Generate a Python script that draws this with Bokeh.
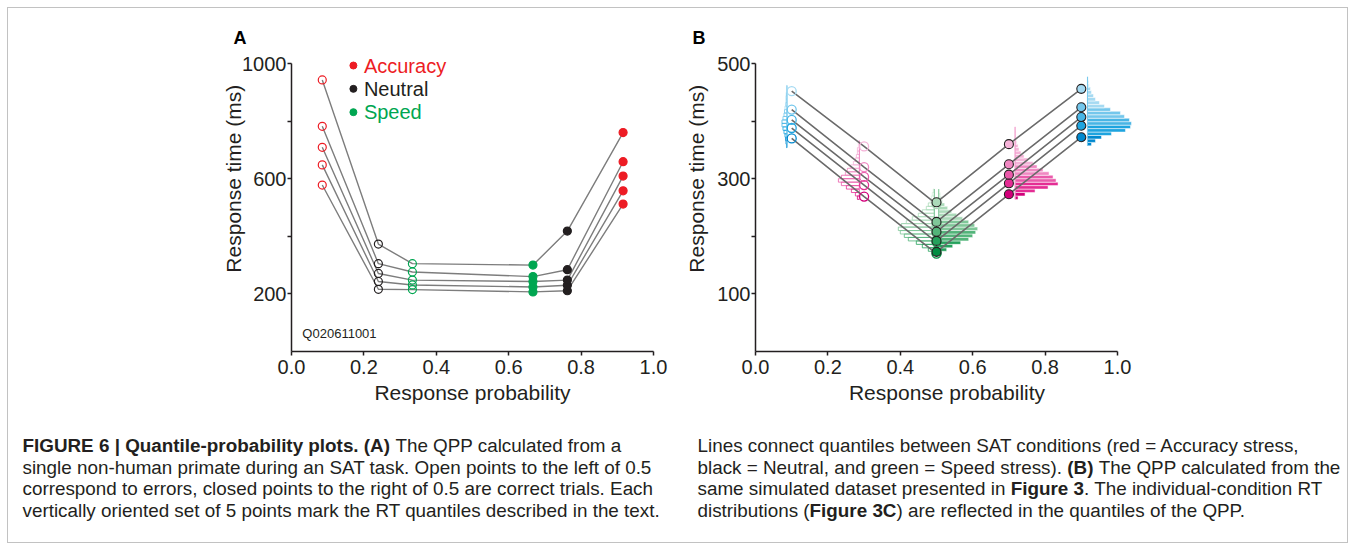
import math
from bokeh.plotting import figure
from bokeh.models import Range1d, FixedTicker, Title, ColumnDataSource
from bokeh.layouts import row, column
from bokeh.embed import file_html
from bokeh.resources import INLINE
from bokeh.core.properties import value

FONT = "Liberation Sans"
INK = "#231f20"

# ---------------- shared axis ticks ----------------
X_TICKS = [0.0, 0.2, 0.4, 0.6, 0.8, 1.0]
X_TICK_LABELS = ["0.0", "0.2", "0.4", "0.6", "0.8", "1.0"]

# ---------------- Panel A data (monkey QPP) ----------------
A_PROB = [0.085, 0.24, 0.334, 0.667, 0.762, 0.916]
A_COND = ["Accuracy", "Neutral", "Speed", "Speed", "Neutral", "Accuracy"]
A_CORRECT = [False, False, False, True, True, True]
A_ACC_ERR = [578, 648, 709, 782, 943]
A_NEU_ERR = [216, 243, 271, 305, 373]
A_SPD_ERR = [215, 231, 248, 276, 305]
A_SPD_COR = [207, 224, 243, 260, 300]
A_NEU_COR = [211, 230, 248, 284, 418]
A_ACC_COR = [512, 558, 609, 659, 760]
A_Y_TICKS = [200, 400, 600, 800, 1000]
A_Y_TICK_LABELS = ["200", "", "600", "", "1000"]
A_LEGEND = ["Accuracy", "Neutral", "Speed"]
A_LEGEND_COLORS = ["#ed1c24", INK, "#00a651"]
A_SESSION = "Q020611001"

# ---------------- Panel B data (simulated QPP) ----------------
B_PROB = [0.1, 0.3, 0.5, 0.5, 0.7, 0.9]
B_COND = ["Accuracy", "Neutral", "Speed", "Speed", "Neutral", "Accuracy"]
B_CORRECT = [False, False, False, True, True, True]
B_ACC_ERR = [370, 388, 402, 420, 452]
B_NEU_ERR = [269, 289, 303, 320, 356]
B_SPD_ERR = [170, 190, 206, 222, 256]
B_SPD_COR = [173, 192, 208, 225, 259]
B_NEU_COR = [273, 292, 307, 325, 360]
B_ACC_COR = [372, 392, 407, 424, 456]
B_Y_TICKS = [100, 200, 300, 400, 500]
B_Y_TICK_LABELS = ["100", "", "300", "", "500"]

# RT histograms (bin width in ms, first bin start, relative counts)
HIST_BIN_MS = 6
B_HIST_START = [354, 264, 168, 168, 264, 357]
B_HIST_ACC_ERR = [0.5, 1, 1.5, 2, 3, 4, 5, 5, 4, 3, 2.5, 2, 1.5, 1, 1, 0.7, 0.5, 0.5]
B_HIST_NEU_ERR = [2, 4, 8, 13, 18, 21, 18, 14, 12, 9, 6, 4, 3, 2, 2, 1, 1]
B_HIST_SPD_ERR = [2, 6, 12, 18, 26, 30, 34, 36, 33, 28, 22, 16, 12, 8, 6, 4, 3, 2, 1]
B_HIST_SPD_COR = [3, 8, 14, 22, 30, 34, 37, 39, 36, 30, 24, 18, 13, 9, 6, 4, 3, 2, 1]
B_HIST_NEU_COR = [3, 10, 20, 33, 43, 41, 38, 34, 28, 22, 18, 13, 9, 6, 4, 3, 2, 1.5, 1, 1, 0.5]
B_HIST_ACC_COR = [4, 8, 14, 24, 38, 43, 44, 42, 37, 33, 23, 17, 12, 8, 6, 4, 3, 2, 1.5, 1]
HIST_SCALE = 1 / 362.0          # probability-axis units per count
B_HIST_OFFSET = [-0.013, -0.013, -0.006, 0.006, 0.017, 0.017]

B_SHADES = {
    "Accuracy": ["#0089cf", "#1ea4df", "#48b5e5", "#74c7ec", "#a5daf2", "#d2edf9"],
    "Neutral": ["#d1007a", "#e42d94", "#ea5aaa", "#f088c2", "#f5b3d8", "#fad9eb"],
    "Speed": ["#008d42", "#25a15c", "#52b479", "#7fc798", "#abdab9", "#d6eddd"],
}

# ---------------- caption ----------------
CAPTION_LEFT = [
    [("FIGURE 6 | Quantile-probability plots. (A)", "bold"), (" The QPP calculated from a", "normal")],
    [("single non-human primate during an SAT task. Open points to the left of 0.5", "normal")],
    [("correspond to errors, closed points to the right of 0.5 are correct trials. Each", "normal")],
    [("vertically oriented set of 5 points mark the RT quantiles described in the text.", "normal")],
]
CAPTION_RIGHT = [
    [("Lines connect quantiles between SAT conditions (red = Accuracy stress,", "normal")],
    [("black = Neutral, and green = Speed stress). ", "normal"), ("(B)", "bold"),
     (" The QPP calculated from the", "normal")],
    [("same simulated dataset presented in ", "normal"), ("Figure 3", "bold"),
     (". The individual-condition RT", "normal")],
    [("distributions (", "normal"), ("Figure 3C", "bold"),
     (") are reflected in the quantiles of the QPP.", "normal")],
]

# ---------------- text metrics (Helvetica/Arial widths, per 1000 em) ----------------
REG_UP = [667, 667, 722, 722, 667, 611, 778, 722, 278, 500, 667, 556, 833, 722, 778, 667, 778, 722, 667, 611, 722, 667, 944, 667, 667, 611]
REG_LO = [556, 556, 500, 556, 556, 278, 556, 556, 222, 222, 500, 222, 833, 556, 556, 556, 556, 333, 500, 278, 556, 500, 722, 500, 500, 500]
BLD_UP = [722, 722, 722, 722, 667, 611, 778, 722, 278, 556, 722, 611, 833, 722, 778, 667, 778, 722, 667, 611, 722, 667, 944, 667, 667, 611]
BLD_LO = [556, 611, 556, 611, 556, 333, 611, 611, 278, 278, 556, 278, 889, 611, 611, 611, 611, 389, 556, 333, 611, 556, 778, 556, 556, 500]
REG_SYM = {" ": 278, ",": 278, ".": 278, "-": 333, "(": 333, ")": 333, "|": 260, "=": 584, ":": 278}
BLD_SYM = {" ": 278, ",": 278, ".": 278, "-": 333, "(": 333, ")": 333, "|": 280, "=": 584, ":": 333}


def em_width(s, bold=False):
    up, lo, sym = (BLD_UP, BLD_LO, BLD_SYM) if bold else (REG_UP, REG_LO, REG_SYM)
    w = 0
    for ch in s:
        if "A" <= ch <= "Z":
            w += up[ord(ch) - 65]
        elif "a" <= ch <= "z":
            w += lo[ord(ch) - 97]
        elif ch.isdigit():
            w += 556
        else:
            w += sym.get(ch, 500)
    return w / 1000.0


A_COLOR = {"Accuracy": "#ed1c24", "Neutral": INK, "Speed": "#00a651"}

# page geometry (pixels)
PAGE_X0, PAGE_Y0 = 8, 8
TOP_H = 412
AXIS_TOP, AXIS_BOT, FRAME_TOP = 63, 351, 54
A_AX_LEFT, A_AX_RIGHT = 291, 653
B_AX_LEFT, B_AX_RIGHT, B_FRAME_RIGHT = 755, 1117, 1138
COL_SPLIT, PAGE_X1 = 670, 1347
TICK_FONT_PX, TITLE_FONT_PX = 20, 21
Y_TITLE = "Response time (ms)"


def base_fig(width, height, xr, yr, left, right, top, bottom):
    p = figure(width=width, height=height, x_range=xr, y_range=yr, title=None,
               output_backend="svg", toolbar_location=None,
               min_border_left=left, min_border_right=right,
               min_border_top=top, min_border_bottom=bottom)
    p.outline_line_color = None
    p.grid.visible = False
    return p


def style_axes(p, yticks, ylabels, ytop, frame_left, ytitle_x):
    for ax in (p.xaxis[0], p.yaxis[0]):
        ax.axis_line_width = 1.5
        ax.axis_line_color = INK
        ax.major_tick_line_width = 1.5
        ax.major_tick_line_color = INK
        ax.major_tick_in = 0
        ax.major_tick_out = 4
        ax.minor_tick_line_color = None
        ax.major_label_text_font = FONT
        ax.major_label_text_font_size = f"{TICK_FONT_PX}px"
        ax.major_label_text_color = INK
    xa = p.xaxis[0]
    xa.ticker = FixedTicker(ticks=X_TICKS)
    xa.major_label_overrides = dict(zip(X_TICKS, X_TICK_LABELS))
    xa.bounds = (0, 1)
    xa.major_label_standoff = 4
    xa.axis_label = "Response probability"
    xa.axis_label_text_font = FONT
    xa.axis_label_text_font_style = "normal"
    xa.axis_label_text_font_size = f"{TITLE_FONT_PX}px"
    xa.axis_label_text_color = INK
    xa.axis_label_standoff = 4
    ya = p.yaxis[0]
    ya.ticker = FixedTicker(ticks=yticks)
    ya.major_label_overrides = dict(zip(yticks, ylabels))
    ya.bounds = (0, ytop)
    ya.major_label_standoff = 1
    # y title: centred on the labelled part of the axis, as in the original figure
    y_center = (AXIS_TOP + (AXIS_BOT - (AXIS_BOT - AXIS_TOP) * yticks[0] / ytop)) / 2
    text_len = em_width(Y_TITLE) * TITLE_FONT_PX
    axis_w = 4 + 1 + max(em_width(s) for s in ylabels) * TICK_FONT_PX
    box_h = 1.117 * TITLE_FONT_PX
    right_edge = ytitle_x + box_h / 2
    standoff = int(round(2 * ((frame_left - axis_w) - right_edge)))
    t = Title(text=Y_TITLE, align="left", offset=AXIS_BOT - (y_center + text_len / 2),
              standoff=standoff, text_font=FONT, text_font_size=f"{TITLE_FONT_PX}px",
              text_font_style="normal", text_color=INK)
    p.add_layout(t, "left")


def panel_letter(p, x, frame_left, letter):
    t = Title(text=letter, align="left", offset=x - frame_left, standoff=14,
              text_font=FONT, text_font_style="bold", text_font_size="18px", text_color="black")
    p.add_layout(t, "above")


# ================= Panel A =================
a_top = 1000 * (AXIS_BOT - FRAME_TOP) / (AXIS_BOT - AXIS_TOP)
pA = base_fig(COL_SPLIT - PAGE_X0, TOP_H, Range1d(0, 1), Range1d(0, a_top),
              A_AX_LEFT - PAGE_X0, COL_SPLIT - A_AX_RIGHT, FRAME_TOP - PAGE_Y0, PAGE_Y0 + TOP_H - AXIS_BOT)
style_axes(pA, A_Y_TICKS, A_Y_TICK_LABELS, 1000, A_AX_LEFT, 235)
panel_letter(pA, 233, A_AX_LEFT, "A")

a_sets = [A_ACC_ERR, A_NEU_ERR, A_SPD_ERR, A_SPD_COR, A_NEU_COR, A_ACC_COR]
for q in range(5):
    pA.line(A_PROB, [s[q] for s in a_sets], line_color="#7d7d7d", line_width=1.4)
for x, cond, corr, rts in zip(A_PROB, A_COND, A_CORRECT, a_sets):
    c = A_COLOR[cond]
    pA.scatter([x] * 5, rts, marker="circle", size=8, line_color=c, line_width=1.2,
               fill_color=c if corr else None)

leg_src = ColumnDataSource(dict(y=[993, 912, 831], label=A_LEGEND, color=A_LEGEND_COLORS))
pA.scatter(x=0.171, y="y", source=leg_src, size=7, color="color")
pA.text(x=0.2, y="y", text="label", source=leg_src, text_color="color", text_font=value(FONT),
        text_font_size=value("20px"), text_baseline="middle", text_align="left")
pA.text(x=[0.03], y=[62], text=[A_SESSION], text_font=value(FONT), text_font_size=value("13px"),
        text_baseline="middle", text_color=INK)

# ================= Panel B =================
b_top = 500 * (AXIS_BOT - FRAME_TOP) / (AXIS_BOT - AXIS_TOP)
b_xend = (B_FRAME_RIGHT - B_AX_LEFT) / (B_AX_RIGHT - B_AX_LEFT)
pB = base_fig(PAGE_X1 - COL_SPLIT, TOP_H, Range1d(0, b_xend), Range1d(0, b_top),
              B_AX_LEFT - COL_SPLIT, PAGE_X1 - B_FRAME_RIGHT, FRAME_TOP - PAGE_Y0, PAGE_Y0 + TOP_H - AXIS_BOT)
style_axes(pB, B_Y_TICKS, B_Y_TICK_LABELS, 500, B_AX_LEFT, 698)
panel_letter(pB, 692, B_AX_LEFT, "B")

b_sets = [B_ACC_ERR, B_NEU_ERR, B_SPD_ERR, B_SPD_COR, B_NEU_COR, B_ACC_COR]
b_hists = [B_HIST_ACC_ERR, B_HIST_NEU_ERR, B_HIST_SPD_ERR, B_HIST_SPD_COR, B_HIST_NEU_COR, B_HIST_ACC_COR]

for x, cond, corr, rts, start, counts, off in zip(B_PROB, B_COND, B_CORRECT, b_sets,
                                                  B_HIST_START, b_hists, B_HIST_OFFSET):
    shades = B_SHADES[cond]
    base = x + off
    sign = 1 if corr else -1
    centers = [start + HIST_BIN_MS * (k + 0.5) for k in range(len(counts))]
    ends = [base + sign * c * HIST_SCALE for c in counts]
    cols = [shades[sum(1 for q in rts if q < cc)] for cc in centers]
    src = ColumnDataSource(dict(y=centers, left=[min(base, e) for e in ends],
                                right=[max(base, e) for e in ends], color=cols))
    if corr:
        pB.hbar(y="y", left="left", right="right", height=HIST_BIN_MS, source=src,
                fill_color="color", line_color="white", line_width=0.5)
    else:
        pB.hbar(y="y", left="left", right="right", height=HIST_BIN_MS, source=src,
                fill_color=None, line_color="color", line_width=0.8)
    pB.segment(x0=[base], y0=[start], x1=[base], y1=[start + HIST_BIN_MS * len(counts)],
               line_color=shades[3], line_width=1)

for q in range(5):
    pB.line(B_PROB, [s[q] for s in b_sets], line_color="#6a6a6a", line_width=1.6)

for x, cond, corr, rts in zip(B_PROB, B_COND, B_CORRECT, b_sets):
    shades = B_SHADES[cond]
    if corr:
        pB.scatter([x] * 5, rts, marker="circle", size=9, fill_color=shades[:5],
                   line_color=INK, line_width=1.1)
    else:
        pB.scatter([x] * 5, rts, marker="circle", size=9, fill_color=None,
                   line_color=shades[:5], line_width=1.3)

# ================= Caption =================
CAP_H = 122
cap_size = (660 - 22) / em_width(CAPTION_LEFT[3][0][0])
pC = base_fig(PAGE_X1 - PAGE_X0, CAP_H, Range1d(PAGE_X0, PAGE_X1), Range1d(TOP_H + PAGE_Y0 + CAP_H, TOP_H + PAGE_Y0),
              0, 0, 0, 0)
pC.axis.visible = False

seg = {"normal": dict(x=[], y=[], t=[]), "bold": dict(x=[], y=[], t=[])}
for col_x, lines in ((22, CAPTION_LEFT), (697, CAPTION_RIGHT)):
    for i, line in enumerate(lines):
        cursor = col_x
        y = 445 + i * 21.6
        for text, style in line:
            lead = len(text) - len(text.lstrip(" "))
            seg[style]["x"].append(cursor + em_width(text[:lead], style == "bold") * cap_size)
            seg[style]["y"].append(y)
            seg[style]["t"].append(text.strip(" "))
            cursor += em_width(text, style == "bold") * cap_size
for style, d in seg.items():
    pC.text(x=d["x"], y=d["y"], text=d["t"], text_font=value(FONT), text_font_style=style,
            text_font_size=value(f"{cap_size:.2f}px"), text_color=INK, text_baseline="alphabetic")

layout = column(row(pA, pB), pC, margin=(PAGE_Y0 - 1, PAGE_X0 - 1, PAGE_Y0 - 1, PAGE_X0 - 1),
                styles={"border": "1px solid #c2c2c2"})

open("out.html", "w").write(file_html(layout, INLINE))
